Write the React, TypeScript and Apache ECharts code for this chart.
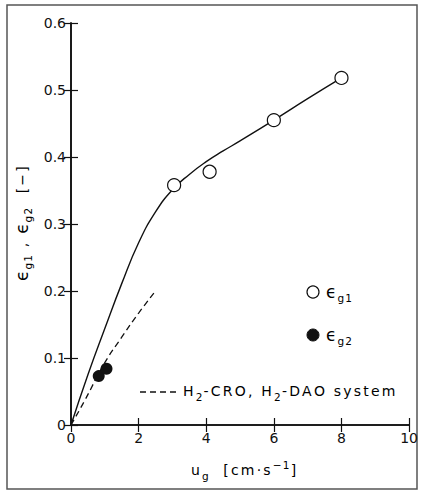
import React, { useEffect, useRef } from "react";
import * as echarts from "echarts";

// Solid curve through the ε_g1 measurements (u_g [cm/s], ε [-])
const solidCurve: [number, number][] = [
  [0, 0], [0.5, 0.075], [1, 0.144], [1.5, 0.211], [2, 0.272], [2.5, 0.318],
  [3, 0.351], [3.5, 0.374], [4, 0.393], [4.5, 0.409], [5, 0.424], [6, 0.455], [7, 0.487], [8, 0.518],
];
// Dashed curve for the H2-CRO, H2-DAO system
const dashedCurve: [number, number][] = [
  [0, 0], [0.4, 0.036], [1, 0.093], [1.5, 0.131], [2, 0.167], [2.5, 0.2],
];
// Measured points
const epsG1: [number, number][] = [
  [3.05, 0.358], [4.1, 0.378], [6.0, 0.455], [8.0, 0.518],
];
const epsG2: [number, number][] = [
  [0.82, 0.073], [1.05, 0.084],
];
const xTicks = { min: 0, max: 10, interval: 2 };
const yTicks = { min: 0, max: 0.6, interval: 0.1 };

const FONT = "'DejaVu Sans', 'Liberation Sans', sans-serif";
const INK = "#111";

// Rich-text styles; per-character tokens get right padding to widen the letter spacing
const rich = {
  t: { fontSize: 14, fontFamily: FONT, color: INK, lineHeight: 22, verticalAlign: "middle", padding: [0, 2.2, 0, 0] },
  e: { fontSize: 17, fontFamily: FONT, color: INK, lineHeight: 22, verticalAlign: "middle", padding: [0, 1, 0, 0] },
  s: { fontSize: 10.5, fontFamily: FONT, color: INK, lineHeight: 9, verticalAlign: "bottom", padding: [0, 1.2, 0, 0] },
  u: { fontSize: 10.5, fontFamily: FONT, color: INK, lineHeight: 9, verticalAlign: "top", padding: [0, 1.2, 0, 0] },
};

const tok = (style: string, s: string) =>
  Array.from(s).map((ch) => `{${style}|${ch}}`).join("");

const epsLabel = (idx: string) => tok("e", "ϵ") + tok("s", "g" + idx);

export default function App() {
  const ref = useRef<HTMLDivElement>(null);

  useEffect(() => {
    if (!ref.current) return;
    const chart = echarts.init(ref.current, null, { renderer: "svg" });

    const tickStyle = { inside: true, length: 7, lineStyle: { color: INK, width: 1.2 } };
    const axisLine = { lineStyle: { color: INK, width: 1.6 } };
    const label = { color: INK, fontSize: 14, fontFamily: FONT, margin: 5 };

    chart.setOption({
      animation: false,
      backgroundColor: "#fff",
      grid: { left: 71, right: 9, top: 23, bottom: 68 },
      xAxis: [
        {
          type: "value", ...xTicks, axisLine, axisTick: tickStyle,
          axisLabel: { ...label, margin: 6 }, splitLine: { show: false },
        },
        {
          type: "value", ...xTicks, position: "top", axisLine, axisTick: tickStyle,
          axisLabel: { show: false }, splitLine: { show: false },
        },
      ],
      yAxis: [
        {
          type: "value", ...yTicks, axisLine: { show: true, ...axisLine }, axisTick: tickStyle,
          axisLabel: { ...label, formatter: (v: number) => (v === 0 ? "0" : v.toFixed(1)) },
          splitLine: { show: false },
        },
        {
          type: "value", ...yTicks, position: "right", axisLine: { show: true, ...axisLine },
          axisTick: tickStyle, axisLabel: { show: false }, splitLine: { show: false },
        },
      ],
      series: [
        {
          type: "line", data: solidCurve, smooth: 0.5, showSymbol: false, silent: true,
          lineStyle: { color: INK, width: 1.4 },
        },
        {
          type: "line", data: dashedCurve, smooth: 0.5, showSymbol: false, silent: true,
          lineStyle: { color: INK, width: 1.3, type: [6, 4] },
        },
        {
          type: "scatter", data: epsG1, symbol: "circle", symbolSize: 13, z: 5,
          itemStyle: { color: "#fff", borderColor: INK, borderWidth: 1.2, opacity: 1 },
        },
        {
          type: "scatter", data: epsG2, symbol: "circle", symbolSize: 12, z: 5,
          itemStyle: { color: INK, opacity: 1 },
        },
      ],
      graphic: [
        // outer frame
        {
          type: "rect", shape: { x: 7, y: 5, width: 410, height: 484 },
          style: { fill: "none", stroke: "#555", lineWidth: 1.5 }, silent: true,
        },
        // legend: open circles
        {
          type: "circle", shape: { cx: 313, cy: 292, r: 6 },
          style: { fill: "#fff", stroke: INK, lineWidth: 1.2 },
        },
        {
          type: "text", x: 326, y: 292,
          style: { text: epsLabel("1"), rich, verticalAlign: "middle", align: "left" },
        },
        // legend: filled circles
        {
          type: "circle", shape: { cx: 313, cy: 335, r: 6 },
          style: { fill: INK, stroke: INK, lineWidth: 1 },
        },
        {
          type: "text", x: 326, y: 335,
          style: { text: epsLabel("2"), rich, verticalAlign: "middle", align: "left" },
        },
        // legend: dashed curve
        {
          type: "line", shape: { x1: 140, y1: 392, x2: 180, y2: 392 },
          style: { stroke: INK, lineWidth: 1.3, lineDash: [6, 4] },
        },
        {
          type: "text", x: 183, y: 391,
          style: {
            text: tok("t", "H") + tok("s", "2") + tok("t", "-CRO, H") + tok("s", "2") + tok("t", "-DAO system"),
            rich, verticalAlign: "middle", align: "left",
          },
        },
        // y-axis title, reading bottom to top
        {
          type: "text", x: 22, y: 281, rotation: Math.PI / 2,
          style: {
            text: epsLabel("1") + tok("t", " , ") + epsLabel("2") + tok("t", "  [−]"),
            rich, align: "left", verticalAlign: "middle",
          },
        },
        // x-axis title
        {
          type: "text", x: 191, y: 470,
          style: {
            text: tok("t", "u") + tok("s", "g") + tok("t", "  [cm·s") + tok("u", "−1") + tok("t", "]"),
            rich, align: "left", verticalAlign: "middle",
          },
        },
      ],
    });

    return () => chart.dispose();
  }, []);

  return (
    <div
      ref={ref}
      style={{ position: "absolute", left: 0, top: 0, width: 421, height: 493 }}
    />
  );
}
